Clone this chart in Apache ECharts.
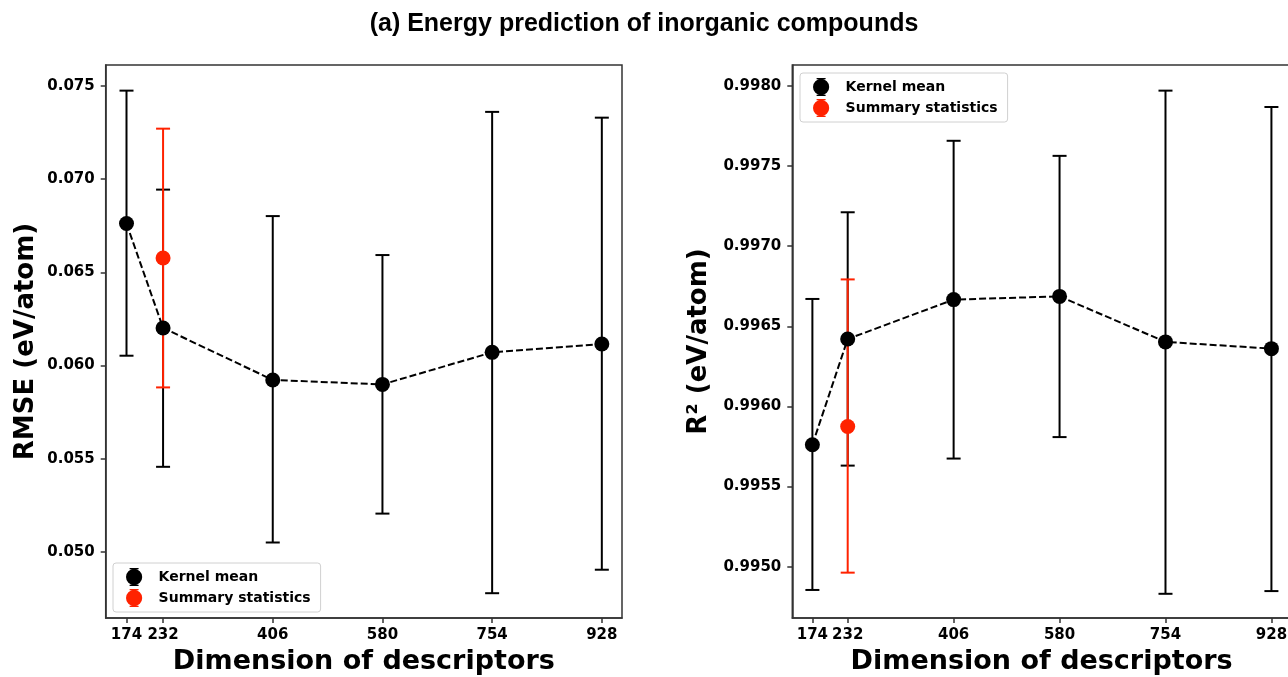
<!DOCTYPE html>
<html>
<head>
<meta charset="utf-8">
<script src="https://cdn.jsdelivr.net/npm/echarts@6/dist/echarts.min.js"></script>
<style>
html, body { margin: 0; padding: 0; background: #fff; }
#chart { width: 1288px; height: 677px; }
</style>
</head>
<body>
<div id="chart"></div>
<script>
// descriptor dimensions (x positions and tick labels)
var dims = [174, 232, 406, 580, 754, 928];

// RMSE, kernel mean
var rmseMean = [0.06762, 0.06202, 0.05923, 0.05899, 0.06071, 0.06116];
var rmseLow  = [0.06053, 0.05457, 0.05051, 0.05206, 0.04779, 0.04905];
var rmseHigh = [0.07475, 0.06944, 0.06802, 0.06593, 0.07361, 0.07330];

// RMSE, summary statistics (single point)
var summaryDim = 232;
var rmseSummaryMean = 0.06577;
var rmseSummaryLow  = 0.05883;
var rmseSummaryHigh = 0.07271;

// R2, kernel mean
var r2Mean = [0.995761, 0.996421, 0.996667, 0.996687, 0.996403, 0.996361];
var r2Low  = [0.994855, 0.995631, 0.995675, 0.995809, 0.994831, 0.994848];
var r2High = [0.996671, 0.997212, 0.997658, 0.997564, 0.997971, 0.997869];

// R2, summary statistics
var r2SummaryMean = 0.995875;
var r2SummaryLow  = 0.994963;
var r2SummaryHigh = 0.996793;

// tick labels
var rmseTicks = [0.050, 0.055, 0.060, 0.065, 0.070, 0.075];
var r2Ticks = [0.9950, 0.9955, 0.9960, 0.9965, 0.9970, 0.9975, 0.9980];

var RED = '#ff2200';
var AXIS = '#333';
var boldFont = { fontFamily: 'DejaVu Sans', fontWeight: 'bold', color: '#000' };

function pairs(xs, ys) {
    return xs.map(function (x, i) { return [x, ys[i]]; });
}
function triples(xs, lo, hi) {
    return xs.map(function (x, i) { return [x, lo[i], hi[i]]; });
}

// vertical error bar with caps
function errorBar(color) {
    return function (params, api) {
        var x = api.value(0);
        var lo = api.coord([x, api.value(1)]);
        var hi = api.coord([x, api.value(2)]);
        var half = 7;
        var style = { stroke: color, lineWidth: 2, fill: null };
        return {
            type: 'group',
            children: [
                { type: 'line', shape: { x1: lo[0], y1: lo[1], x2: hi[0], y2: hi[1] }, style: style },
                { type: 'line', shape: { x1: lo[0] - half, y1: lo[1], x2: lo[0] + half, y2: lo[1] }, style: style },
                { type: 'line', shape: { x1: hi[0] - half, y1: hi[1], x2: hi[0] + half, y2: hi[1] }, style: style }
            ]
        };
    };
}

function xAxisFor(gridIndex) {
    return {
        type: 'value', gridIndex: gridIndex, min: 141, max: 960,
        name: 'Dimension of descriptors', nameLocation: 'middle', nameGap: 30,
        nameTextStyle: Object.assign({ fontSize: 27 }, boldFont),
        axisLine: { show: true, onZero: false, lineStyle: { color: AXIS, width: 1.5 } },
        axisTick: { show: true, length: 5, customValues: dims, lineStyle: { color: AXIS, width: 1.5 } },
        axisLabel: Object.assign({ customValues: dims, margin: 10, fontSize: 15 }, boldFont),
        splitLine: { show: false }
    };
}

function yAxisFor(gridIndex, min, max, ticks, digits, name, gap) {
    return {
        type: 'value', gridIndex: gridIndex, min: min, max: max,
        name: name, nameLocation: 'middle', nameGap: gap, nameRotate: 90,
        nameTextStyle: Object.assign({ fontSize: 26 }, boldFont),
        axisLine: { show: true, onZero: false, lineStyle: { color: AXIS, width: 1.5 } },
        axisTick: { show: true, length: 5, customValues: ticks, lineStyle: { color: AXIS, width: 1.5 } },
        axisLabel: Object.assign({
            customValues: ticks, margin: 11, fontSize: 15,
            formatter: function (v) { return v.toFixed(digits); }
        }, boldFont),
        splitLine: { show: false }
    };
}

// legend icon: dot with a short capped error bar
var legendIcon = 'path://M1,10a9,9 0 1,1 18,0a9,9 0 1,1 -18,0Z' +
    'M9.3,0h1.4v20h-1.4Z M5,0h10v1.4h-10Z M5,18.6h10v1.4h-10Z';

function legendFor(left, top) {
    return {
        orient: 'vertical', left: left, top: top,
        data: [
            { name: 'Kernel mean', icon: legendIcon, itemStyle: { color: '#000' } },
            { name: 'Summary statistics', icon: legendIcon, itemStyle: { color: RED } }
        ],
        itemWidth: 17, itemHeight: 18, itemGap: 3,
        padding: [5, 10, 5, 13],
        backgroundColor: '#fff', borderColor: '#d0d0d0', borderWidth: 1, borderRadius: 3,
        textStyle: Object.assign({ fontSize: 14, padding: [0, 0, 0, 11] }, boldFont),
        selectedMode: false
    };
}

function panelSeries(idx, mean, lo, hi, sMean, sLo, sHi) {
    return [
        {
            type: 'custom', xAxisIndex: idx, yAxisIndex: idx, z: 2,
            renderItem: errorBar('#000'), encode: { x: 0, y: [1, 2] },
            data: triples(dims, lo, hi), silent: true
        },
        {
            type: 'custom', xAxisIndex: idx, yAxisIndex: idx, z: 3,
            renderItem: errorBar(RED), encode: { x: 0, y: [1, 2] },
            data: [[summaryDim, sLo, sHi]], silent: true
        },
        {
            type: 'line', xAxisIndex: idx, yAxisIndex: idx, z: 4,
            data: pairs(dims, mean), symbol: 'none',
            lineStyle: { color: '#000', width: 2, type: [7, 3] }, silent: true
        },
        {
            name: 'Kernel mean', type: 'scatter', xAxisIndex: idx, yAxisIndex: idx, z: 5,
            data: pairs(dims, mean), symbolSize: 15, itemStyle: { color: '#000', opacity: 1 }
        },
        {
            name: 'Summary statistics', type: 'scatter', xAxisIndex: idx, yAxisIndex: idx, z: 5,
            data: [[summaryDim, sMean]], symbolSize: 15, itemStyle: { color: RED, opacity: 1 }
        }
    ];
}

var myChart = echarts.init(document.getElementById('chart'));

var option = {
    animation: false,
    backgroundColor: '#fff',
    title: {
        text: '(a) Energy prediction of inorganic compounds',
        left: 'center', top: 7,
        textStyle: { fontFamily: 'Liberation Sans', fontWeight: 'bold', fontSize: 25, color: '#000' }
    },
    grid: [
        { left: 105.7, top: 65, width: 516.3, height: 553, outerBoundsMode: 'none',
          show: true, borderColor: AXIS, borderWidth: 1.5 },
        { left: 792.3, top: 65, width: 498.6, height: 553, outerBoundsMode: 'none',
          show: true, borderColor: AXIS, borderWidth: 1.5 }
    ],
    xAxis: [xAxisFor(0), xAxisFor(1)],
    yAxis: [
        yAxisFor(0, 0.04646, 0.076125, rmseTicks, 3, 'RMSE (eV/atom)', 66),
        yAxisFor(1, 0.99468, 0.998131, r2Ticks, 4, 'R² (eV/atom)', 80)
    ],
    legend: [legendFor(113, 563), legendFor(800, 73)],
    series: []
        .concat(panelSeries(0, rmseMean, rmseLow, rmseHigh, rmseSummaryMean, rmseSummaryLow, rmseSummaryHigh))
        .concat(panelSeries(1, r2Mean, r2Low, r2High, r2SummaryMean, r2SummaryLow, r2SummaryHigh))
};

myChart.setOption(option);
</script>
</body>
</html>
